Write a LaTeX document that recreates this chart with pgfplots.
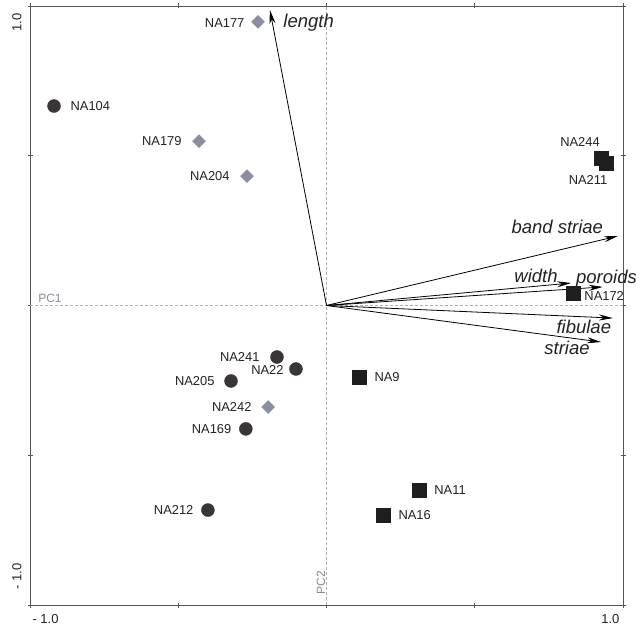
\documentclass[border=0pt]{standalone}
\usepackage{pgfplots}
\pgfplotsset{compat=1.18}
\usepackage{fontspec}
\setmainfont{Liberation Sans}
\usetikzlibrary{arrows.meta}
\definecolor{circ}{HTML}{3A3538}
\definecolor{diam}{HTML}{8A8E9E}
\definecolor{sq}{HTML}{1E1E1E}
\definecolor{axc}{HTML}{555555}
\definecolor{pcc}{HTML}{8A8A9A}
\definecolor{txt}{HTML}{222222}

\pgfplotstableread{
x y
-0.919 0.666
-0.167 -0.172
-0.103 -0.212
-0.322 -0.252
-0.272 -0.412
-0.400 -0.683
}\circles
\pgfplotstableread{
x y
-0.231 0.947
-0.430 0.549
-0.268 0.432
-0.197 -0.339
}\diamonds
\pgfplotstableread{
x y
0.926 0.492
0.943 0.476
0.831 0.042
0.110 -0.239
0.312 -0.616
0.191 -0.699
}\squares

\begin{document}
\begin{tikzpicture}
\begin{axis}[
  name=ax,
  scale only axis,
  width=593pt, height=599pt,
  xmin=-1, xmax=1, ymin=-1, ymax=1,
  clip=false,
  axis line style={axc, line width=0.8pt},
  tick style={axc, line width=0.8pt},
  major tick length=5pt,
  tick align=center,
  xtick={-1,-0.5,0,0.5,1}, ytick={-1,-0.5,0,0.5,1},
  xticklabels={}, yticklabels={},
  every node/.style={inner sep=0pt, outer sep=0pt},
]
% zero lines
\addplot[pcc!70, line width=0.6pt, densely dashed] coordinates {(-1,0) (1,0)};
\addplot[pcc!70, line width=0.6pt, densely dashed] coordinates {(0,-1) (0,1)};

% arrows
\addplot[black, line width=0.8pt, -{Stealth[length=14pt,width=6pt]}] coordinates {(0,0) (-0.191,0.987)};
\addplot[black, line width=0.8pt, -{Stealth[length=14pt,width=6pt]}] coordinates {(0,0) (0.983,0.232)};
\addplot[black, line width=0.8pt, -{Stealth[length=14pt,width=6pt]}] coordinates {(0,0) (0.825,0.075)};
\addplot[black, line width=0.8pt, -{Stealth[length=14pt,width=6pt]}] coordinates {(0,0) (0.932,0.062)};
\addplot[black, line width=0.8pt, -{Stealth[length=14pt,width=6pt]}] coordinates {(0,0) (0.966,-0.042)};
\addplot[black, line width=0.8pt, -{Stealth[length=14pt,width=6pt]}] coordinates {(0,0) (0.926,-0.122)};

% points
\addplot[only marks, mark=*, mark size=6.5pt, mark options={fill=circ, draw=circ}] table {\circles};
\addplot[only marks, mark=square*, mark size=4.6pt, mark options={fill=diam, draw=diam, rotate=45}] table {\diamonds};
\addplot[only marks, mark=square*, mark size=7pt, mark options={fill=sq, draw=sq}] table {\squares};

% point labels
\begin{scope}[every node/.append style={font=\fontsize{12.9}{15}\selectfont, text=txt}]
\node[anchor=east] at (axis cs:-0.265,0.943) {NA177};
\node[anchor=west] at (axis cs:-0.875,0.666) {NA104};
\node[anchor=east] at (axis cs:-0.477,0.549) {NA179};
\node[anchor=east] at (axis cs:-0.315,0.432) {NA204};
\node[anchor=center] at (axis cs:0.855,0.546) {NA244};
\node[anchor=center] at (axis cs:0.882,0.419) {NA211};
\node[anchor=west] at (axis cs:0.858,0.032) {NA172};
\node[anchor=east] at (axis cs:-0.214,-0.172) {NA241};
\node[anchor=east] at (axis cs:-0.133,-0.215) {NA22};
\node[anchor=east] at (axis cs:-0.366,-0.252) {NA205};
\node[anchor=east] at (axis cs:-0.241,-0.339) {NA242};
\node[anchor=east] at (axis cs:-0.309,-0.412) {NA169};
\node[anchor=east] at (axis cs:-0.437,-0.683) {NA212};
\node[anchor=west] at (axis cs:0.150,-0.239) {NA9};
\node[anchor=west] at (axis cs:0.352,-0.616) {NA11};
\node[anchor=west] at (axis cs:0.231,-0.699) {NA16};
\end{scope}

% arrow labels
\begin{scope}[every node/.append style={font=\fontsize{18.5}{22}\selectfont\itshape, text=txt}]
\node[anchor=base west] at (axis cs:-0.157,0.927) {length};
\node[anchor=base west] at (axis cs:0.612,0.239) {band striae};
\node[anchor=base west] at (axis cs:0.622,0.078) {width};
\node[anchor=base west] at (axis cs:0.830,0.075) {poroids};
\node[anchor=base west] at (axis cs:0.764,-0.092) {fibulae};
\node[anchor=base west] at (axis cs:0.723,-0.165) {striae};
\end{scope}

% PC labels
\node[anchor=west, font=\fontsize{12}{14}\selectfont, text=pcc] at (axis cs:-0.984,0.025) {PC1};
\node[anchor=center, rotate=90, font=\fontsize{12}{14}\selectfont, text=pcc] at (axis cs:-0.019,-0.925) {PC2};

% tick labels
\begin{scope}[every node/.append style={font=\fontsize{13}{15}\selectfont, text=txt}]
\node[anchor=north west] at ([xshift=-1pt,yshift=-6pt]rel axis cs:0,0) {- 1.0};
\node[anchor=north east] at ([yshift=-6pt]rel axis cs:1,0) {1.0};
\node[anchor=east, rotate=90] at ([xshift=-13pt,yshift=-4pt]rel axis cs:0,1) {1.0};
\node[anchor=west, rotate=90] at ([xshift=-13pt,yshift=12pt]rel axis cs:0,0) {- 1.0};
\end{scope}
\end{axis}
\pgfresetboundingbox
\useasboundingbox ([shift={(-30pt,-21pt)}]ax.south west) rectangle ([shift={(13pt,6pt)}]ax.north east);
\end{tikzpicture}
\end{document}
